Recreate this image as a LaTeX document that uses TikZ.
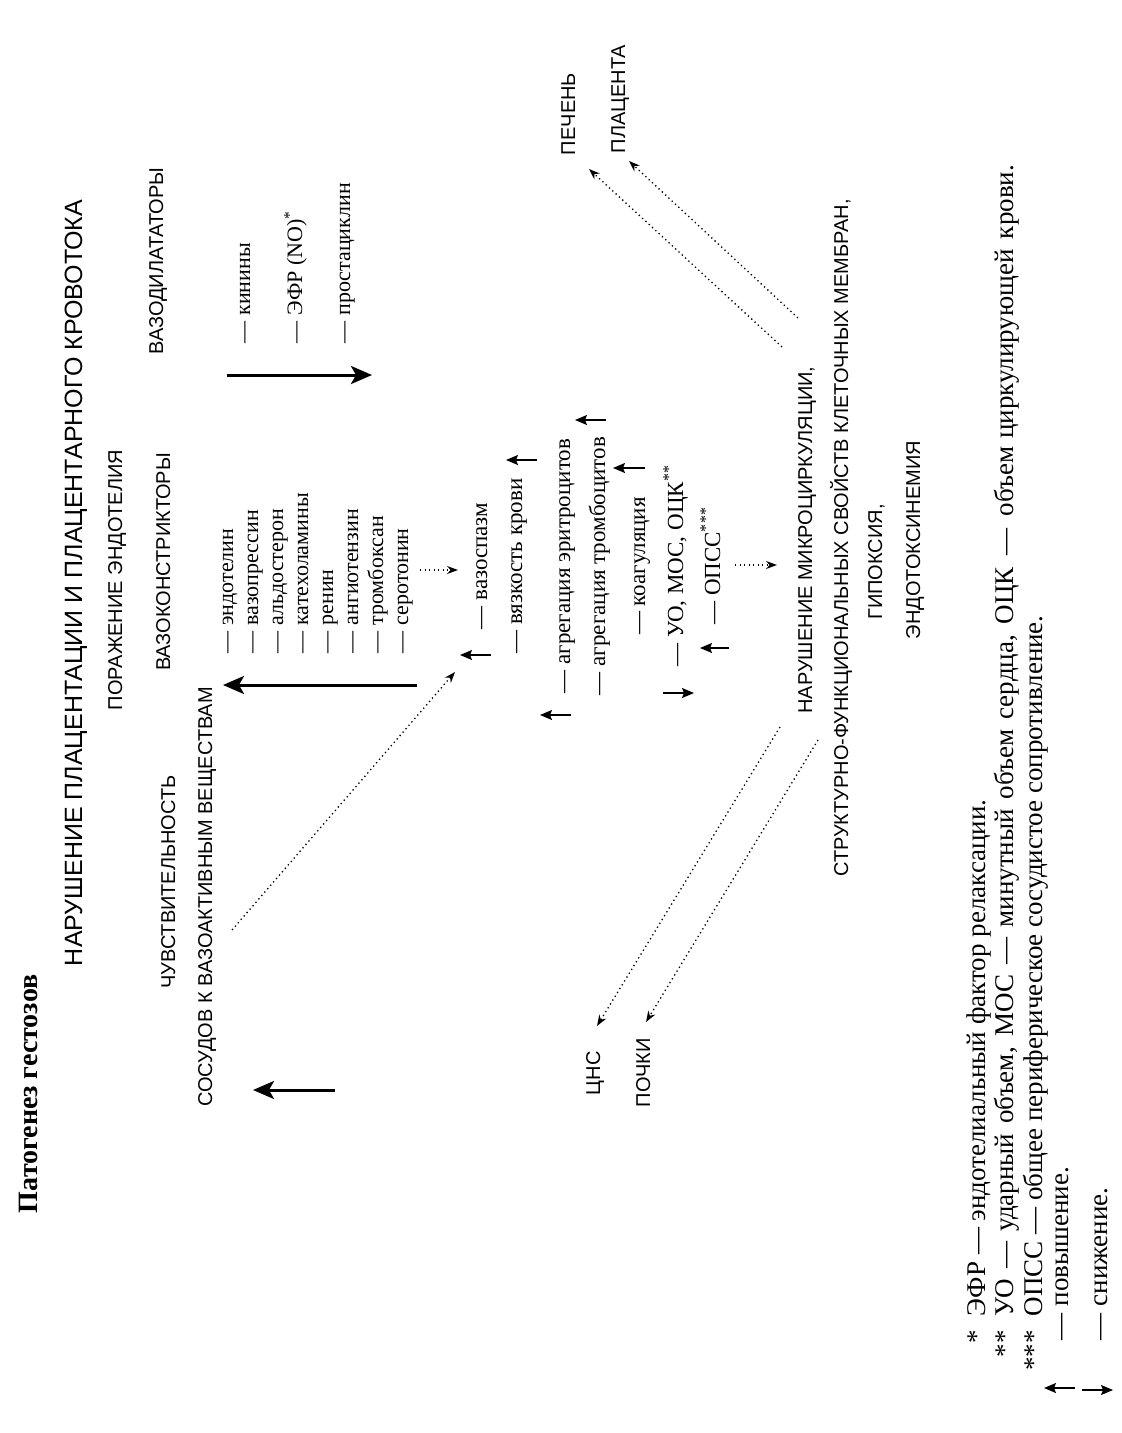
\documentclass[tikz,border=0pt]{standalone}
\usepackage{fontspec}
\setmainfont{Liberation Serif}
\setsansfont{Liberation Sans}
\usetikzlibrary{arrows.meta,positioning}

\begin{document}
\begin{tikzpicture}[
      x=1pt, y=-1pt,
      every node/.style={rotate=90, inner sep=0pt, outer sep=0pt},
      caption/.style={font=\fontsize{28}{32}\selectfont\bfseries, anchor=base west},
      headline/.style={font=\sffamily\fontsize{25}{30}\selectfont, anchor=base},
      lbl/.style={font=\sffamily\fontsize{20}{24}\selectfont, anchor=base},
      organ/.style={font=\sffamily\fontsize{20}{24}\selectfont, anchor=base west},
      agent/.style={font=\fontsize{22}{25}\selectfont, anchor=base west},
      effect/.style={font=\fontsize{23}{27}\selectfont, anchor=base},
      note/.style={font=\fontsize{27}{30}\selectfont, anchor=base west},
      footmark/.style={font=\fontsize{27}{30}\selectfont, anchor=base east},
      bigarr/.style={line width=3pt, -{Stealth[length=21pt, width=18pt, inset=5pt]}},
      tinyarr/.style={line width=1.3pt, -{Stealth[length=12pt, width=10pt, inset=2pt]}},
      dotarr/.style={line width=1.3pt, dash pattern=on 1.3pt off 3.2pt, -{Stealth[length=11pt, width=8pt]}},
    ]
    \fill[white] (0,0) rectangle (1122,1433);
    \useasboundingbox (0,0) rectangle (1122,1433);

    \node[caption] (pathogen) at (37,1213) {Патогенез гестозов};
    \node[headline] (main) at (82,583) {НАРУШЕНИЕ ПЛАЦЕНТАЦИИ И ПЛАЦЕНТАРНОГО КРОВОТОКА};

    \node[lbl] (damage) at (122,580) {ПОРАЖЕНИЕ ЭНДОТЕЛИЯ};
    \node[lbl] (sens) at (175,882) {ЧУВСТВИТЕЛЬНОСТЬ};
    \node[lbl] (vessels) at (212,897) {СОСУДОВ К ВАЗОАКТИВНЫМ ВЕЩЕСТВАМ};
    \node[lbl] (constr) at (170,562) {ВАЗОКОНСТРИКТОРЫ};
    \node[lbl] (dilat) at (163,261) {ВАЗОДИЛАТАТОРЫ};

    \node[agent] (kinin) at (250,343) {— кинины};
    \node[agent] (edrf) at (302,343) {— ЭФР (NO)\textsuperscript{*}};
    \node[agent] (prost) at (350,343) {— простациклин};
    \coordinate (dilA) at (227,375);
    \coordinate (dilB) at (372,375);
    \draw[bigarr] (dilA) -- (dilB);

    \node[agent] (vc1) at (233,653) {— эндотелин};
    \node[agent] (vc2) at (258,653) {— вазопрессин};
    \node[agent] (vc3) at (283,653) {— альдостерон};
    \node[agent] (vc4) at (308,653) {— катехоламины};
    \node[agent] (vc5) at (333,653) {— ренин};
    \node[agent] (vc6) at (358,653) {— ангиотензин};
    \node[agent] (vc7) at (383,653) {— тромбоксан};
    \node[agent] (vc8) at (408,653) {— серотонин};
    \coordinate (conA) at (417,685);
    \coordinate (conB) at (223,685);
    \draw[bigarr] (conA) -- (conB);

    \coordinate (sensA) at (335,1090);
    \coordinate (sensB) at (253,1090);
    \draw[bigarr] (sensA) -- (sensB);

    \node[effect] (spasm) at (487,566) {— вазоспазм};
    \node[effect] (visc) at (522,566) {— вязкость крови};
    \node[effect] (eryth) at (570,566) {— агрегация эритроцитов};
    \node[effect] (throm) at (605,566) {— агрегация тромбоцитов};
    \node[effect] (coag) at (645,566) {— коагуляция};
    \node[effect] (flow) at (683,566) {— УО, МОС, ОЦК\textsuperscript{**}};
    \node[effect] (opss) at (720,566) {— ОПСС\textsuperscript{***}};

    \coordinate (spasmA) at (491,655);
    \coordinate (spasmB) at (460,655);
    \draw[tinyarr] (spasmA) -- (spasmB);
    \coordinate (viscA) at (537,460);
    \coordinate (viscB) at (506,460);
    \draw[tinyarr] (viscA) -- (viscB);
    \coordinate (erythA) at (571,715);
    \coordinate (erythB) at (540,715);
    \draw[tinyarr] (erythA) -- (erythB);
    \coordinate (thromA) at (606,420);
    \coordinate (thromB) at (575,420);
    \draw[tinyarr] (thromA) -- (thromB);
    \coordinate (coagA) at (645,468);
    \coordinate (coagB) at (613,468);
    \draw[tinyarr] (coagA) -- (coagB);
    \coordinate (flowA) at (663,693);
    \coordinate (flowB) at (694,693);
    \draw[tinyarr] (flowA) -- (flowB);
    \coordinate (opssA) at (729,648);
    \coordinate (opssB) at (700,648);
    \draw[tinyarr] (opssA) -- (opssB);

    \coordinate (sensC) at (232,930);
    \coordinate (spasmC) at (455,672);
    \draw[dotarr] (sensC) -- (spasmC);
    \coordinate (vcC) at (420,570);
    \coordinate (vcD) at (458,570);
    \draw[dotarr] (vcC) -- (vcD);
    \coordinate (opssC) at (735,565);
    \coordinate (opssD) at (777,565);
    \draw[dotarr] (opssC) -- (opssD);

    \node[lbl] (micro) at (812,540) {НАРУШЕНИЕ МИКРОЦИРКУЛЯЦИИ,};
    \node[lbl] (membr) at (848,538) {СТРУКТУРНО-ФУНКЦИОНАЛЬНЫХ СВОЙСТВ КЛЕТОЧНЫХ МЕМБРАН,};
    \node[lbl] (hypox) at (882,562) {ГИПОКСИЯ,};
    \node[lbl] (toxin) at (920,540) {ЭНДОТОКСИНЕМИЯ};

    \node[organ] (cns) at (600,1095) {ЦНС};
    \node[organ] (kidney) at (650,1107) {ПОЧКИ};
    \node[organ] (liver) at (575,155) {ПЕЧЕНЬ};
    \node[organ] (placenta) at (625,153) {ПЛАЦЕНТА};

    \coordinate (microA) at (780,727);
    \coordinate (microB) at (818,740);
    \coordinate (microC) at (782,347);
    \coordinate (microD) at (798,318);
    \coordinate (cnsA) at (597,1026);
    \coordinate (kidneyA) at (646,1022);
    \coordinate (liverA) at (589,169);
    \coordinate (placentaA) at (629,161);
    \draw[dotarr] (microA) -- (cnsA);
    \draw[dotarr] (microB) -- (kidneyA);
    \draw[dotarr] (microC) -- (liverA);
    \draw[dotarr] (microD) -- (placentaA);

    \node[footmark] (m1) at (985,1330) {*};
    \node[footmark] (m2) at (1013,1330) {**};
    \node[footmark] (m3) at (1042,1330) {***};
    \node[note] (n1) at (985,1316) {ЭФР — эндотелиальный фактор релаксации.};
    \node[note] (n2) at (1013,1316) {\makebox[1151pt][s]{УО — ударный объем, МОС — минутный объем сердца, ОЦК\hspace{12pt}—\hspace{12pt}объем\hspace{8pt}циркулирующей крови.}};
    \node[note] (n3) at (1042,1316) {ОПСС — общее периферическое сосудистое сопротивление.};
    \node[note] (n4) at (1068,1340) {— повышение.};
    \node[note] (n5) at (1107,1340) {— снижение.};
    \coordinate (upA) at (1075,1388);
    \coordinate (upB) at (1044,1388);
    \draw[tinyarr] (upA) -- (upB);
    \coordinate (downA) at (1082,1390);
    \coordinate (downB) at (1113,1390);
    \draw[tinyarr] (downA) -- (downB);
  \end{tikzpicture}
\end{document}
